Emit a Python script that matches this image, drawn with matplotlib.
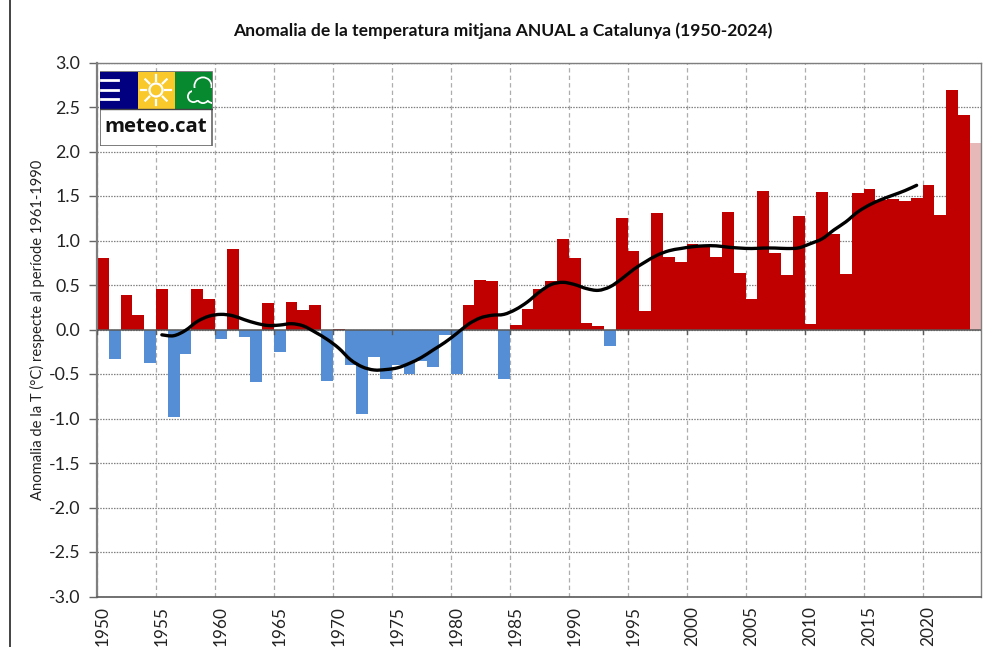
import matplotlib.pyplot as plt
from matplotlib.patches import Circle, PathPatch, Rectangle
from matplotlib.path import Path
import numpy as np

plt.rcParams['font.family'] = ['Lato', 'DejaVu Sans']

years = list(range(1950, 2025))
anomaly = [
    0.80, -0.33, 0.39, 0.16, -0.38, 0.45, -0.98, -0.27, 0.46, 0.34,
    -0.11, 0.90, -0.08, -0.59, 0.30, -0.25, 0.31, 0.22, 0.28, -0.58,
    0.01, -0.40, -0.95, -0.31, -0.56, -0.40, -0.50, -0.35, -0.42, -0.06,
    -0.50, 0.27, 0.56, 0.54, -0.56, 0.05, 0.23, 0.45, 0.55, 1.02,
    0.80, 0.07, 0.04, -0.19, 1.25, 0.88, 0.21, 1.31, 0.82, 0.76,
    0.96, 0.95, 0.81, 1.32, 0.63, 0.34, 1.56, 0.86, 0.61, 1.28,
    0.06, 1.55, 1.07, 0.62, 1.53, 1.58, 1.46, 1.47, 1.44, 1.48,
    1.62, 1.29, 2.69, 2.41, 2.10,
]
smooth_years = list(range(1955, 2020))
smooth = [
    -0.06, -0.07, -0.01, 0.09, 0.15, 0.17, 0.155, 0.11, 0.07, 0.045,
    0.05, 0.065, 0.04, -0.03, -0.11, -0.21, -0.34, -0.42, -0.455, -0.45,
    -0.43, -0.38, -0.315, -0.23, -0.145, -0.045, 0.06, 0.13, 0.16, 0.17,
    0.225, 0.31, 0.42, 0.505, 0.53, 0.505, 0.46, 0.44, 0.48, 0.57,
    0.675, 0.76, 0.835, 0.885, 0.91, 0.93, 0.94, 0.94, 0.925, 0.915,
    0.91, 0.915, 0.915, 0.91, 0.917, 0.965, 1.02, 1.12, 1.21, 1.32,
    1.40, 1.46, 1.51, 1.56, 1.62,
]
yticks = [-3.0, -2.5, -2.0, -1.5, -1.0, -0.5, 0.0, 0.5, 1.0, 1.5, 2.0, 2.5, 3.0]
xlabels = list(range(1950, 2025, 5))

RED = '#C00000'
BLUE = '#558ED5'
PALE = '#E6B8B7'
GREEN = '#078930'

W, H = 987, 647
fig = plt.figure(figsize=(W / 100, H / 100), dpi=100, facecolor='white')
ax = fig.add_axes([97 / W, 1 - 596.5 / H, 884.5 / W, 534 / H])

x = np.array(years) - 1950 + 0.5
colors = [RED if v >= 0 else BLUE for v in anomaly]
colors[-1] = PALE
ax.bar(x, anomaly, width=1.0, color=colors, zorder=2)

# smoothed curve like the spreadsheet one: bezier segments through the yearly values
sx = np.array(smooth_years) - 1950 + 0.5
sy = np.array(smooth)
verts = [(sx[0], sy[0])]
for i in range(len(sx) - 1):
    p0 = max(i - 1, 0)
    p3 = min(i + 2, len(sx) - 1)
    verts.append((sx[i] + (sx[i + 1] - sx[p0]) / 6, sy[i] + (sy[i + 1] - sy[p0]) / 6))
    verts.append((sx[i + 1] - (sx[p3] - sx[i]) / 6, sy[i + 1] - (sy[p3] - sy[i]) / 6))
    verts.append((sx[i + 1], sy[i + 1]))
codes = [Path.MOVETO] + [Path.CURVE4] * (len(verts) - 1)
ax.add_patch(PathPatch(Path(verts, codes), fc='none', ec='black', lw=2.4,
                       capstyle='round', joinstyle='round', zorder=4))

ax.set_xlim(0, 75)
ax.set_ylim(-3, 3)
ax.set_yticks(yticks)
ax.set_yticklabels([f'{v:.1f}' for v in yticks], fontsize=12.8, color='#222222')
ax.tick_params(axis='y', length=6, width=1, color='#666666', pad=6)

# grid lines sit on the bar edges, labels on the bar centres
ax.set_xticks([y - 1950 for y in xlabels])
ax.set_xticklabels([])
ax.set_xticks([y - 1950 + 0.5 for y in xlabels], minor=True)
ax.set_xticklabels([str(y) for y in xlabels], minor=True, rotation=90,
                   fontsize=12.4, color='#222222')
ax.tick_params(axis='x', which='major', length=0)
ax.tick_params(axis='x', which='minor', length=0, pad=7)

ax.grid(axis='x', color='#adadad', ls=(0, (3.5, 2.5)), lw=0.9, zorder=1)
ax.grid(axis='y', color='#808080', ls=(0, (1.2, 1)), lw=0.9, zorder=1)
ax.set_axisbelow(True)
ax.axhline(0, color='#595959', lw=1.1, zorder=3)
for v in xlabels:
    ax.plot([v - 1950] * 2, [0, -0.05], color='#595959', lw=1, zorder=3)

for side in ax.spines.values():
    side.set_color('#7f7f7f')
    side.set_linewidth(1.0)
ax.spines['left'].set_linewidth(1.6)
ax.spines['bottom'].set_color('#595959')
ax.spines['bottom'].set_linewidth(1.2)

fig.text(503 / W, 1 - 31 / H, 'Anomalia de la temperatura mitjana ANUAL a Catalunya (1950-2024)',
         ha='center', va='center', fontsize=12.6, fontweight='bold', color='#111111')
fig.text(37 / W, 1 - 330 / H, 'Anomalia de la T (°C) respecte al període 1961-1990',
         rotation=90, ha='center', va='center', fontsize=10.6, color='#222222')

# left border of the page
fig.add_artist(plt.Line2D([9.5 / W, 9.5 / W], [0, 1], color='#111111', lw=1.1))

# logo, drawn in pixel coordinates of the image
logo = fig.add_axes([100 / W, 1 - 146 / H, 113 / W, 75 / H], zorder=5)
logo.set_xlim(100, 213)
logo.set_ylim(146, 71)
logo.axis('off')
logo.add_patch(Rectangle((100, 71.5), 112.5, 74, fc='white', ec='#666666', lw=1.2))
logo.add_patch(Rectangle((100, 71.5), 38, 37, fc='#000080', lw=0))
logo.add_patch(Rectangle((138, 71.5), 37, 37, fc='#F9C82A', lw=0))
green_sq = Rectangle((175, 71.5), 37.5, 37, fc=GREEN, lw=0)
logo.add_patch(green_sq)
for yy in (80, 90, 99):
    logo.plot([101, 118], [yy, yy], color='white', lw=2)
logo.add_patch(Circle((156, 90), 6.5, fc='#F9C82A', ec='white', lw=1.6))
for a in np.deg2rad(np.arange(0, 360, 45)):
    logo.plot([156 + 9.5 * np.cos(a), 156 + 15 * np.cos(a)],
              [90 + 9.5 * np.sin(a), 90 + 15 * np.sin(a)], color='white', lw=1.6)
# cloud: white discs with smaller green discs on top give the outline
lobes = [(193.5, 96.5, 6.5), (203, 86, 9.5), (203, 97, 7), (213, 96, 8)]
for pad, col in ((0, 'white'), (1.8, GREEN)):
    for cx, cy, r in lobes:
        disc = Circle((cx, cy), r - pad, fc=col, lw=0)
        logo.add_patch(disc)
        disc.set_clip_path(green_sq)
filler = Rectangle((192, 88), 21, 12, fc=GREEN, lw=0)
logo.add_patch(filler)
filler.set_clip_path(green_sq)
logo.plot([100, 212.5], [108.5, 108.5], color='#444444', lw=1)
logo.text(156, 127, 'meteo.cat', ha='center', va='center', fontsize=14.7,
          fontweight='bold', color='#111111', family=['Open Sans', 'DejaVu Sans'])

fig.savefig('out.png', dpi=100)
